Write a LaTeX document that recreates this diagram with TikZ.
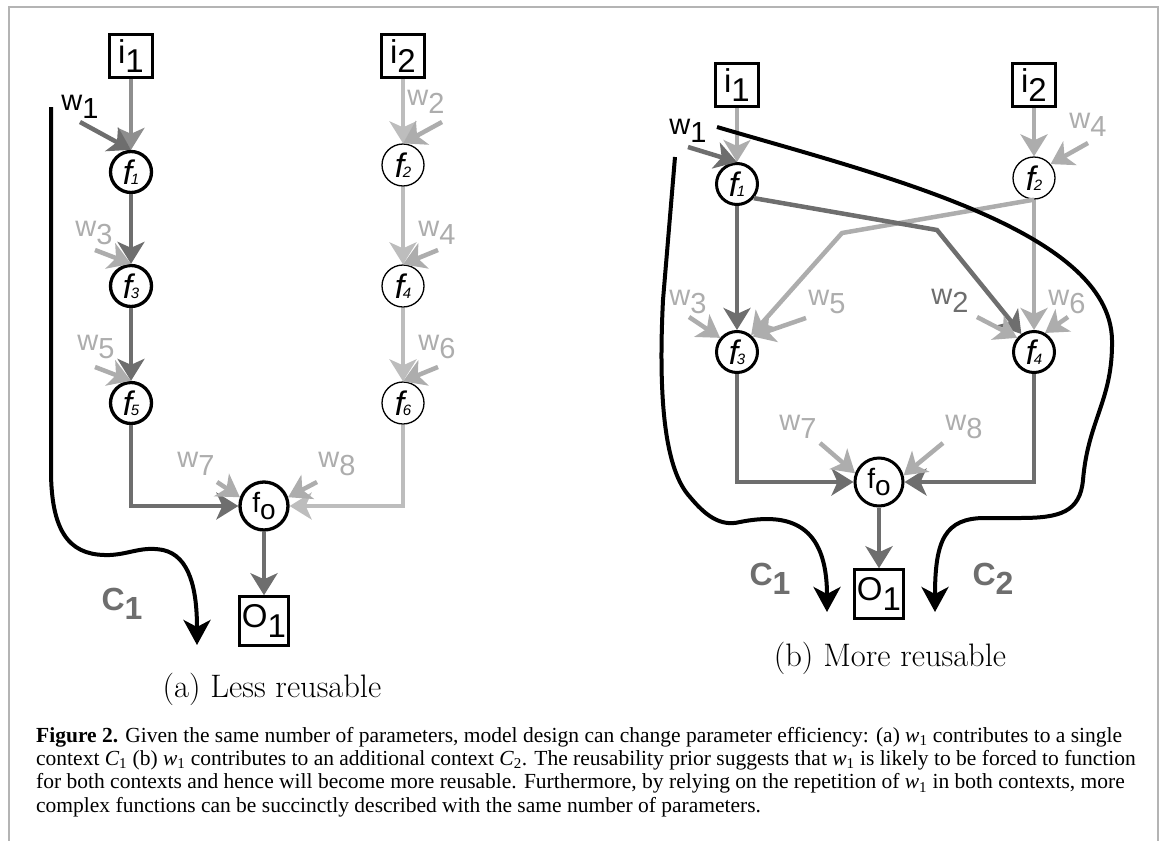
\documentclass[tikz,border=0pt]{standalone}
\usepackage{fontspec}
\setsansfont{Liberation Sans}
\newfontfamily\capfont{Liberation Serif}
\usepackage{xcolor}
\usepackage{tikz}
\usetikzlibrary{arrows.meta, positioning, calc}

\definecolor{dgray}{HTML}{6E6E6E}
\definecolor{mgray}{HTML}{8E8E8E}
\definecolor{lgray}{HTML}{ADADAD}
\definecolor{vlgray}{HTML}{BDBDBD}
\definecolor{framegray}{HTML}{B4B4B4}

\newcommand{\lsub}[2]{#1\raisebox{-0.28em}{#2}}
\newcommand{\fnl}[1]{{\fontsize{34}{36}\selectfont\itshape f}\kern-1.5pt\raisebox{-0.5pt}{\fontsize{15}{15}\selectfont\itshape #1}}
\newcommand{\cw}[2]{{\itshape #1}\textsubscript{#2}}

\begin{document}
\begin{tikzpicture}[
    x=1pt, y=-1pt,
    every node/.style={font=\sffamily\fontsize{29}{32}\selectfont, inner sep=0pt},
    inbox/.style={draw, line width=2.5pt, minimum width=43pt, minimum height=43pt, font=\sffamily\fontsize{33}{36}\selectfont},
    outbox/.style={draw, line width=2.5pt, minimum width=49pt, minimum height=49pt, font=\sffamily\fontsize{33}{36}\selectfont},
    fnode/.style={circle, draw, line width=3.3pt, minimum size=41pt},
    fnodethin/.style={fnode, line width=1.3pt, minimum size=42pt},
    onode/.style={fnode, minimum size=48pt, font=\sffamily\fontsize{28}{30}\selectfont},
    wlabel/.style={text=lgray},
    ctxlabel/.style={text=dgray, font=\sffamily\bfseries\fontsize{32}{34}\selectfont},
    wire/.style={line width=4.5pt, -{Stealth[length=22pt, width=27pt, inset=6pt]}},
    ctx/.style={line width=4pt, -{Stealth[length=25pt, width=27pt, inset=7pt]}},
    subcap/.style={font=\rmfamily\fontsize{32.5}{38}\selectfont}
]
    \useasboundingbox (0,0) rectangle (1171,841);
    \draw[framegray, line width=1.5pt] (9,841) -- (9,7) -- (1158,7) -- (1158,841);

    % (a) Less reusable
    \node[inbox] (ai1) at (131,56) {\lsub{i}{1}};
    \node[inbox] (ai2) at (403,56) {\lsub{i}{2}};
    \node[fnode] (af1) at (131,172) {\fnl{1}};
    \node[fnodethin] (af2) at (403,165) {\fnl{2}};
    \node[fnode] (af3) at (131,286) {\fnl{3}};
    \node[fnodethin] (af4) at (403,286) {\fnl{4}};
    \node[fnode] (af5) at (131,403) {\fnl{5}};
    \node[fnodethin] (af6) at (403,403) {\fnl{6}};
    \node[onode] (afo) at (264,506) {\lsub{f}{o}};
    \node[outbox] (ao1) at (264,621) {\lsub{O}{1}};

    \node (aw1) at (80,107) {\lsub{w}{1}};
    \node[wlabel] (aw2) at (426,102) {\lsub{w}{2}};
    \node[wlabel] (aw3) at (94,233) {\lsub{w}{3}};
    \node[wlabel] (aw4) at (437,233) {\lsub{w}{4}};
    \node[wlabel] (aw5) at (96,347) {\lsub{w}{5}};
    \node[wlabel] (aw6) at (437,347) {\lsub{w}{6}};
    \node[wlabel] (aw7) at (196,464) {\lsub{w}{7}};
    \node[wlabel] (aw8) at (337,464) {\lsub{w}{8}};
    \node[ctxlabel] (ac1) at (122,604) {\lsub{C}{1}};

    \coordinate (aw1s) at (80,122);
    \coordinate (aw2s) at (442,122);
    \coordinate (aw3s) at (95,250);
    \coordinate (aw4s) at (438,250);
    \coordinate (aw5s) at (95,367);
    \coordinate (aw6s) at (438,367);
    \coordinate (aw7s) at (217,482);
    \coordinate (aw8s) at (317,482);

    \draw[wire, mgray] (ai1) -- (af1);
    \draw[wire, dgray] (aw1s) -- (af1.north);
    \draw[wire, dgray] (af1) -- (af3);
    \draw[wire, lgray] (aw3s) -- (af3.north);
    \draw[wire, dgray] (af3) -- (af5);
    \draw[wire, lgray] (aw5s) -- (af5.north);
    \draw[wire, dgray] (af5.south) |- (afo.west);
    \draw[wire, vlgray] (ai2) -- (af2);
    \draw[wire, lgray] (aw2s) -- (af2.north);
    \draw[wire, vlgray] (af2) -- (af4);
    \draw[wire, lgray] (aw4s) -- (af4.north);
    \draw[wire, vlgray] (af4) -- (af6);
    \draw[wire, lgray] (aw6s) -- (af6.north);
    \draw[wire, vlgray] (af6.south) |- (afo.east);
    \draw[wire, lgray] (aw7s) -- (afo.160);
    \draw[wire, lgray] (aw8s) -- (afo.20);
    \draw[wire, dgray] (afo) -- (ao1);

    \coordinate (actxs) at (51,107);
    \coordinate (actxe) at (197,645);
    \draw[ctx] (actxs) -- (51,470) .. controls (51,540) and (75,556) .. (110,555)
        .. controls (130,554) and (142,546) .. (163,550) .. controls (190,556) and (197,590) .. (actxe);

    \node[subcap] (acap) at (272,689) {(a) Less reusable};

    % (b) More reusable
    \node[inbox] (bi1) at (737,85) {\lsub{i}{1}};
    \node[inbox] (bi2) at (1034,85) {\lsub{i}{2}};
    \node[fnode, line width=3pt] (bf1) at (737,184) {\fnl{1}};
    \node[fnodethin] (bf2) at (1034,178) {\fnl{2}};
    \node[fnode, line width=3pt] (bf3) at (737,352) {\fnl{3}};
    \node[fnode, line width=3pt] (bf4) at (1034,352) {\fnl{4}};
    \node[onode, line width=3pt] (bfo) at (879,482) {\lsub{f}{o}};
    \node[outbox] (bo1) at (879,594) {\lsub{O}{1}};

    \node (bw1) at (688,131) {\lsub{w}{1}};
    \node[text=dgray] (bw2) at (950,301) {\lsub{w}{2}};
    \node[wlabel] (bw3) at (688,302) {\lsub{w}{3}};
    \node[wlabel] (bw4) at (1088,125) {\lsub{w}{4}};
    \node[wlabel] (bw5) at (827,302) {\lsub{w}{5}};
    \node[wlabel] (bw6) at (1067,302) {\lsub{w}{6}};
    \node[wlabel] (bw7) at (798,427) {\lsub{w}{7}};
    \node[wlabel] (bw8) at (964,427) {\lsub{w}{8}};
    \node[ctxlabel] (bc1) at (770,579) {\lsub{C}{1}};
    \node[ctxlabel] (bc2) at (993,579) {\lsub{C}{2}};

    \coordinate (bw1s) at (688,147);
    \coordinate (bw2s) at (977,317);
    \coordinate (bw3s) at (689,317);
    \coordinate (bw4s) at (1088,143);
    \coordinate (bw5s) at (806,318);
    \coordinate (bw6s) at (1068,317);
    \coordinate (bw7s) at (820,443);
    \coordinate (bw8s) at (943,443);
    \coordinate (bk23) at (842,233);
    \coordinate (bk14) at (937,230);

    \draw[wire, lgray] (bi1) -- (bf1);
    \draw[wire, dgray] (bw1s) -- (bf1.north);
    \draw[wire, lgray] (bi2) -- (bf2);
    \draw[wire, lgray] (bw4s) -- (bf2.40);
    \draw[wire, lgray] (bf2.south) -- (bk23) -- (bf3.50);
    \draw[wire, lgray] (bf2) -- (bf4);
    \draw[wire, dgray] (bf1) -- (bf3);
    \draw[wire, dgray] (bf1.-40) -- (bk14) -- (bf4.125);
    \draw[wire, lgray] (bw3s) -- (bf3.140);
    \draw[wire, lgray] (bw5s) -- (bf3.45);
    \draw[wire, lgray] (bw2s) -- (bf4.140);
    \draw[wire, lgray] (bw6s) -- (bf4.60);
    \draw[wire, dgray] (bf3.south) |- (bfo.west);
    \draw[wire, dgray] (bf4.south) |- (bfo.east);
    \draw[wire, lgray] (bw7s) -- (bfo.160);
    \draw[wire, lgray] (bw8s) -- (bfo.15);
    \draw[wire, dgray] (bfo) -- (bo1);

    \coordinate (bc1s) at (675,157);
    \coordinate (bc1e) at (827,612);
    \coordinate (bc2s) at (717,127);
    \coordinate (bc2e) at (935,612);
    \draw[ctx] (bc1s) -- (663,300) .. controls (658,400) and (665,470) .. (690,497)
        .. controls (705,515) and (720,527) .. (740,522) .. controls (790,512) and (827,525) .. (bc1e);
    \draw[ctx] (bc2s) .. controls (880,175) and (1110,230) .. (1112,340)
        .. controls (1113,400) and (1088,420) .. (1083,480) .. controls (1080,512) and (1060,518) .. (1020,518)
        -- (985,518) .. controls (945,518) and (935,540) .. (bc2e);

    \node[subcap] (bcap) at (890,658) {(b) More reusable};

    % Figure caption
    \node[anchor=north west, align=left, font=\capfont\fontsize{21.5}{23.3}\selectfont] (cap) at (36,727)
        {\textbf{Figure 2.} Given the same number of parameters, model design can change parameter efficiency: (a) \cw{w}{1} contributes to a single\\
        context \cw{C}{1} (b) \cw{w}{1} contributes to an additional context \cw{C}{2}. The reusability prior suggests that \cw{w}{1} is likely to be forced to function\\
        for both contexts and hence will become more reusable. Furthermore, by relying on the repetition of \cw{w}{1} in both contexts, more\\
        complex functions can be succinctly described with the same number of parameters.};
\end{tikzpicture}
\end{document}
